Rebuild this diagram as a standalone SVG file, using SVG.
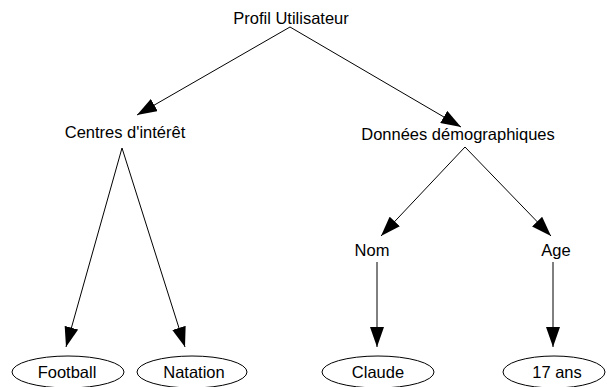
<svg xmlns="http://www.w3.org/2000/svg" width="607" height="387" viewBox="0 0 607 387">
  <style>
    text { font-family: "Liberation Sans", Arial, sans-serif; font-size: 16.5px; fill: #000; text-anchor: middle; }
    .edge { stroke: #000; stroke-width: 1; fill: none; marker-end: url(#arrow); }
    .leaf { fill: #fff; stroke: #000; stroke-width: 1; }
  </style>
  <defs>
    <marker id="arrow" markerUnits="userSpaceOnUse" markerWidth="20" markerHeight="14" refX="20" refY="7" orient="auto">
      <path d="M0,0 L20,7 L0,14 Z" fill="#000"/>
    </marker>
  </defs>

  <g id="edges">
    <line class="edge" x1="290" y1="27" x2="137" y2="115"/>
    <line class="edge" x1="290" y1="27" x2="461" y2="127"/>
    <line class="edge" x1="122" y1="148" x2="66" y2="347"/>
    <line class="edge" x1="122" y1="148" x2="185" y2="347"/>
    <line class="edge" x1="465" y1="147" x2="381" y2="236"/>
    <line class="edge" x1="465" y1="147" x2="551" y2="236"/>
    <line class="edge" x1="377" y1="262" x2="377" y2="347"/>
    <line class="edge" x1="553" y1="262" x2="553" y2="347"/>
  </g>

  <g id="profil">
    <text x="291" y="24">Profil Utilisateur</text>
  </g>
  <g id="centres">
    <text x="125" y="138">Centres d'intérêt</text>
  </g>
  <g id="donnees">
    <text x="458" y="140">Données démographiques</text>
  </g>
  <g id="nom">
    <text x="372" y="256">Nom</text>
  </g>
  <g id="age">
    <text x="556" y="256">Age</text>
  </g>
  <g id="football">
    <ellipse class="leaf" cx="68" cy="372" rx="56" ry="16"/>
    <text x="67" y="378">Football</text>
  </g>
  <g id="natation">
    <ellipse class="leaf" cx="192" cy="372" rx="55" ry="16"/>
    <text x="194" y="378">Natation</text>
  </g>
  <g id="claude">
    <ellipse class="leaf" cx="378" cy="372" rx="56" ry="16"/>
    <text x="378" y="378">Claude</text>
  </g>
  <g id="ans17">
    <ellipse class="leaf" cx="554" cy="372" rx="51" ry="16"/>
    <text x="557" y="378">17 ans</text>
  </g>
</svg>
